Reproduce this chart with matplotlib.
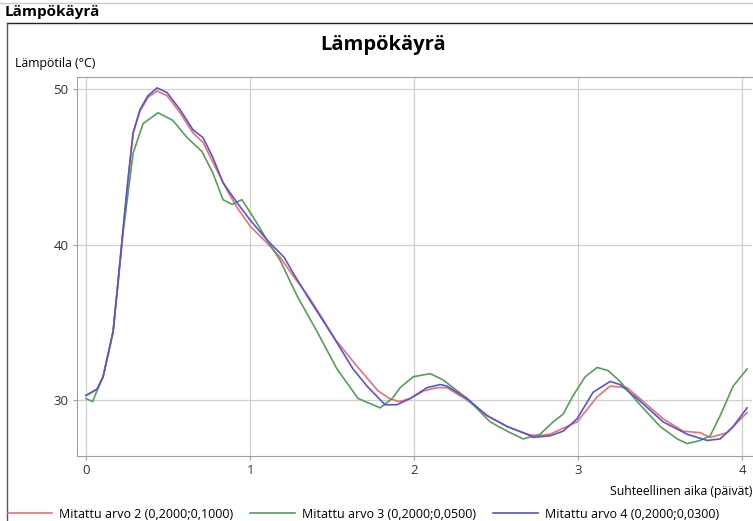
import matplotlib
matplotlib.use("Agg")
import matplotlib.pyplot as plt
from matplotlib.lines import Line2D

# ---- data (days, °C) ----
SERIES_NAMES = [
    "Mitattu arvo 2 (0,2000;0,1000)",
    "Mitattu arvo 3 (0,2000;0,0500)",
    "Mitattu arvo 4 (0,2000;0,0300)",
]

red_x = [0, 0.067, 0.104, 0.165, 0.195, 0.226, 0.256, 0.287, 0.329, 0.378,
         0.433, 0.494, 0.573, 0.652, 0.713, 0.774, 0.860, 0.921, 1.0, 1.104,
         1.183, 1.262, 1.348, 1.427, 1.52, 1.65, 1.78, 1.85, 1.91, 1.976,
         2.06, 2.14, 2.20, 2.323, 2.445, 2.567, 2.689, 2.75, 2.829, 2.994,
         3.115, 3.195, 3.299, 3.518, 3.640, 3.744, 3.805, 3.909, 4.03]
red_y = [30.3, 30.7, 31.5, 34.4, 37.6, 41.0, 44.2, 47.2, 48.6, 49.5,
         49.9, 49.6, 48.5, 47.2, 46.6, 45.3, 43.5, 42.4, 41.2, 40.1,
         39.2, 38.0, 36.8, 35.5, 33.9, 32.2, 30.6, 30.1, 29.9, 30.1,
         30.6, 30.8, 30.8, 30.0, 29.0, 28.3, 27.8, 27.7, 27.8, 28.6,
         30.2, 30.9, 30.8, 28.8, 28.0, 27.9, 27.6, 27.9, 29.2]

green_x = [0, 0.04, 0.067, 0.104, 0.165, 0.195, 0.226, 0.287, 0.348, 0.439,
           0.53, 0.616, 0.707, 0.774, 0.835, 0.89, 0.95, 1.018, 1.104, 1.183,
           1.287, 1.409, 1.530, 1.659, 1.793, 1.866, 1.915, 1.994,
           2.098, 2.177, 2.323, 2.463, 2.567, 2.665, 2.768, 2.848, 2.909, 2.970,
           3.043, 3.116, 3.183, 3.256, 3.360, 3.500, 3.604, 3.665, 3.744, 3.805,
           3.866, 3.945, 4.030]
green_y = [30.1, 29.9, 30.6, 31.5, 34.4, 37.5, 40.8, 45.9, 47.8, 48.5,
           48.0, 46.9, 46.0, 44.6, 42.9, 42.6, 42.9, 41.8, 40.3, 39.0,
           36.7, 34.4, 32.0, 30.1, 29.5, 30.1, 30.8, 31.5,
           31.7, 31.3, 30.1, 28.6, 28.0, 27.5, 27.8, 28.6, 29.1, 30.3,
           31.5, 32.1, 31.9, 31.2, 29.9, 28.3, 27.5, 27.2, 27.4, 27.7,
           29.0, 30.9, 32.0]

blue_x = [0, 0.067, 0.104, 0.165, 0.195, 0.226, 0.256, 0.287, 0.329, 0.378,
          0.433, 0.494, 0.573, 0.652, 0.713, 0.774, 0.835, 0.921, 1.0, 1.104,
          1.207, 1.262, 1.348, 1.427, 1.506, 1.628, 1.713, 1.823, 1.896, 1.976,
          2.079, 2.159, 2.201, 2.323, 2.445, 2.567, 2.689, 2.726, 2.829, 2.909,
          2.994, 3.091, 3.195, 3.256, 3.36, 3.518, 3.665, 3.787, 3.866, 3.945,
          4.03]
blue_y = [30.3, 30.7, 31.5, 34.4, 37.6, 41.0, 44.2, 47.2, 48.7, 49.6,
          50.1, 49.8, 48.7, 47.4, 46.9, 45.6, 44.0, 42.7, 41.6, 40.3,
          39.2, 38.2, 36.7, 35.4, 34.1, 32.0, 30.9, 29.7, 29.7, 30.1,
          30.8, 31.0, 30.9, 30.1, 29.0, 28.3, 27.8, 27.6, 27.7, 28.0,
          28.8, 30.5, 31.2, 31.0, 30.1, 28.6, 27.8, 27.4, 27.5, 28.3,
          29.5]

X_TICKS = [0, 1, 2, 3, 4]
Y_TICKS = [30, 40, 50]

COLORS = ["#ee6f6f", "#55a055", "#5555d5"]

plt.rcParams["font.family"] = ["Open Sans", "DejaVu Sans"]

W, H = 753, 521
fig = plt.figure(figsize=(W / 100, H / 100), dpi=100)


def fx(px):
    return px / W


def fy(py):
    return 1 - py / H


# ---- frame decoration (window heading) ----
fig.add_artist(Line2D([0, 1], [fy(3), fy(3)], color="#c8c8c8", lw=1))
fig.text(fx(5), fy(12), "Lämpökäyrä", fontsize=11, fontweight="bold",
         va="center", ha="left")
fig.add_artist(Line2D([fx(7), 1], [fy(23), fy(23)], color="#222222", lw=1))
fig.add_artist(Line2D([fx(7), fx(7)], [fy(23), 0], color="#555555", lw=1))

fig.text(fx(383), fy(45), "Lämpökäyrä", fontsize=14.5, fontweight="bold",
         ha="center", va="center")
fig.text(fx(15), fy(64), "Lämpötila (°C)", fontsize=8.8, ha="left", va="center")

# ---- axes ----
left, right, top, bottom = 77, 752, 77, 456
ax = fig.add_axes([fx(left), fy(bottom), fx(right - left), (bottom - top) / H])

for xs, ys, c in zip([red_x, green_x, blue_x], [red_y, green_y, blue_y], COLORS):
    ax.plot(xs, ys, color=c, lw=1.2)

ax.set_xlim(-0.055, 4.06)
ax.set_ylim(26.4, 50.8)
ax.set_xticks(X_TICKS)
ax.set_yticks(Y_TICKS)
ax.grid(True, color="#d0d0d0", lw=0.9)
ax.set_axisbelow(True)
for s in ax.spines.values():
    s.set_color("#a0a0a0")
ax.spines["right"].set_visible(False)
ax.tick_params(colors="#a0a0a0", labelcolor="#333333", labelsize=9.5, length=3,
               pad=3)

fig.text(fx(752), fy(492), "Suhteellinen aika (päivät)", fontsize=8.8,
         ha="right", va="center")

# ---- legend ----
handles = [Line2D([], [], color=c, lw=1.2) for c in COLORS]
fig.legend(handles, SERIES_NAMES, loc="lower left", bbox_to_anchor=(0.0, -0.014),
           ncol=3, frameon=False, fontsize=9.0, handlelength=3.6,
           handletextpad=0.55, columnspacing=1.35, borderaxespad=0.2)

fig.savefig("out.png", dpi=100)
